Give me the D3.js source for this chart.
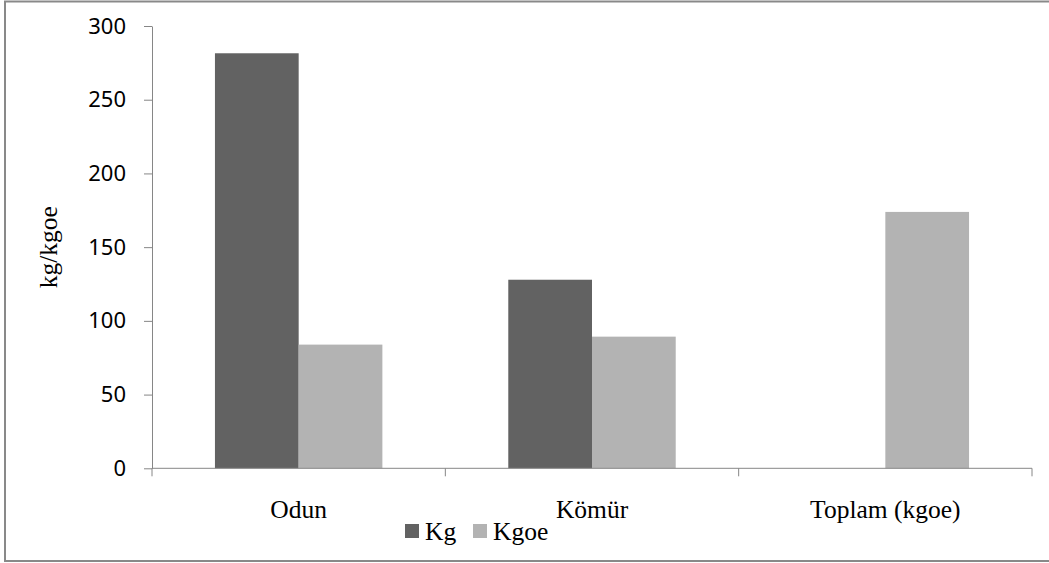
<!DOCTYPE html>
<html>
<head>
<meta charset="utf-8">
<script src="https://cdnjs.cloudflare.com/ajax/libs/d3/7.8.5/d3.min.js"></script>
<style>
  body { margin: 0; background: #fff; }
  svg { display: block; }
  .axis path, .axis line { stroke: #868686; }
  .axis text { font-family: "Noto Sans", sans-serif; font-size: 22px; fill: #000; }
  text.serif, .axis text.serif { font-family: "Liberation Serif", "Times New Roman", serif; font-size: 25.5px; fill: #000; }
</style>
</head>
<body>
<svg id="chart" width="1049" height="563"></svg>
<script>
const width = 1049;
const height = 563;

// data
const categories = ["Odun", "Kömür", "Toplam (kgoe)"];
const series = ["Kg", "Kgoe"];
const kgValues = [281.5, 127.9, 0];
const kgoeValues = [83.9, 89.3, 173.9];
const yTicks = [0, 50, 100, 150, 200, 250, 300];
const colors = ["#626262", "#b3b3b3"];

const margin = { top: 26, left: 152, right: 17, bottom: 94 };

const svg = d3.select("svg#chart");

// outer frame
svg.append("rect")
  .attr("x", 5)
  .attr("y", 1.5)
  .attr("width", 1060)
  .attr("height", 559.5)
  .attr("fill", "none")
  .attr("stroke", "#898989")
  .attr("stroke-width", 2);

const plot = svg.append("g").attr("transform", translate(margin.left, margin.top));
const plotWidth = width - margin.left - margin.right;
const plotHeight = height - margin.top - margin.bottom - 0.7;

/* SCALES */
const x0 = d3.scaleBand().domain(categories).range([0, plotWidth]).padding(0);
const x1 = d3.scaleBand().domain(series).range([0, x0.bandwidth()])
  .paddingInner(0).paddingOuter(0.752);
const y = d3.scaleLinear().domain([0, 300]).range([plotHeight, 0]);
const color = d3.scaleOrdinal().domain(series).range(colors);

const rows = categories.map((c, i) => ({
  category: c,
  values: [{ key: "Kg", value: kgValues[i] }, { key: "Kgoe", value: kgoeValues[i] }]
}));

/* BARS */
const groups = plot.selectAll("g.cat")
  .data(rows)
  .enter()
  .append("g")
  .attr("class", "cat")
  .attr("transform", d => translate(x0(d.category), 0));

groups.selectAll("rect")
  .data(d => d.values.filter(v => v.value > 0))
  .enter()
  .append("rect")
  .attr("x", d => x1(d.key))
  .attr("y", d => y(d.value))
  .attr("width", x1.bandwidth())
  .attr("height", d => plotHeight - y(d.value))
  .attr("fill", d => color(d.key));

/* Y AXIS */
const yAxis = d3.axisLeft(y)
  .tickValues(yTicks)
  .tickSize(8)
  .tickSizeOuter(0)
  .tickPadding(18);

plot.append("g").attr("class", "axis").call(yAxis);

/* X AXIS */
const xGroup = plot.append("g").attr("class", "axis")
  .attr("transform", translate(0, plotHeight));

xGroup.append("path")
  .attr("d", "M0,0H" + plotWidth)
  .attr("fill", "none");

const boundaries = categories.map(c => x0(c)).concat([x0(categories[categories.length - 1]) + x0.bandwidth()]);
xGroup.selectAll("line.tick")
  .data(boundaries)
  .enter()
  .append("line")
  .attr("x1", d => d)
  .attr("x2", d => d)
  .attr("y1", 0)
  .attr("y2", 8);

xGroup.selectAll("text.cat")
  .data(categories)
  .enter()
  .append("text")
  .attr("class", "serif")
  .attr("x", d => x0(d) + x0.bandwidth() / 2)
  .attr("y", 50)
  .attr("text-anchor", "middle")
  .text(d => d);

/* Y TITLE */
svg.append("text")
  .attr("class", "serif")
  .attr("transform", translate(57, margin.top + plotHeight / 2) + " rotate(-90)")
  .attr("text-anchor", "middle")
  .text("kg/kgoe");

/* LEGEND */
const legend = svg.append("g").attr("transform", translate(405, 524));
const legendX = [0, 68];
const items = legend.selectAll("g")
  .data(series)
  .enter()
  .append("g")
  .attr("transform", (d, i) => translate(legendX[i], 0));

items.append("rect")
  .attr("width", 14)
  .attr("height", 14)
  .attr("fill", d => color(d));

items.append("text")
  .attr("class", "serif")
  .attr("x", 20)
  .attr("y", 16)
  .text(d => d);

function translate(x, y) {
  return "translate(" + String(x) + "," + String(y) + ")";
}
</script>
</body>
</html>
